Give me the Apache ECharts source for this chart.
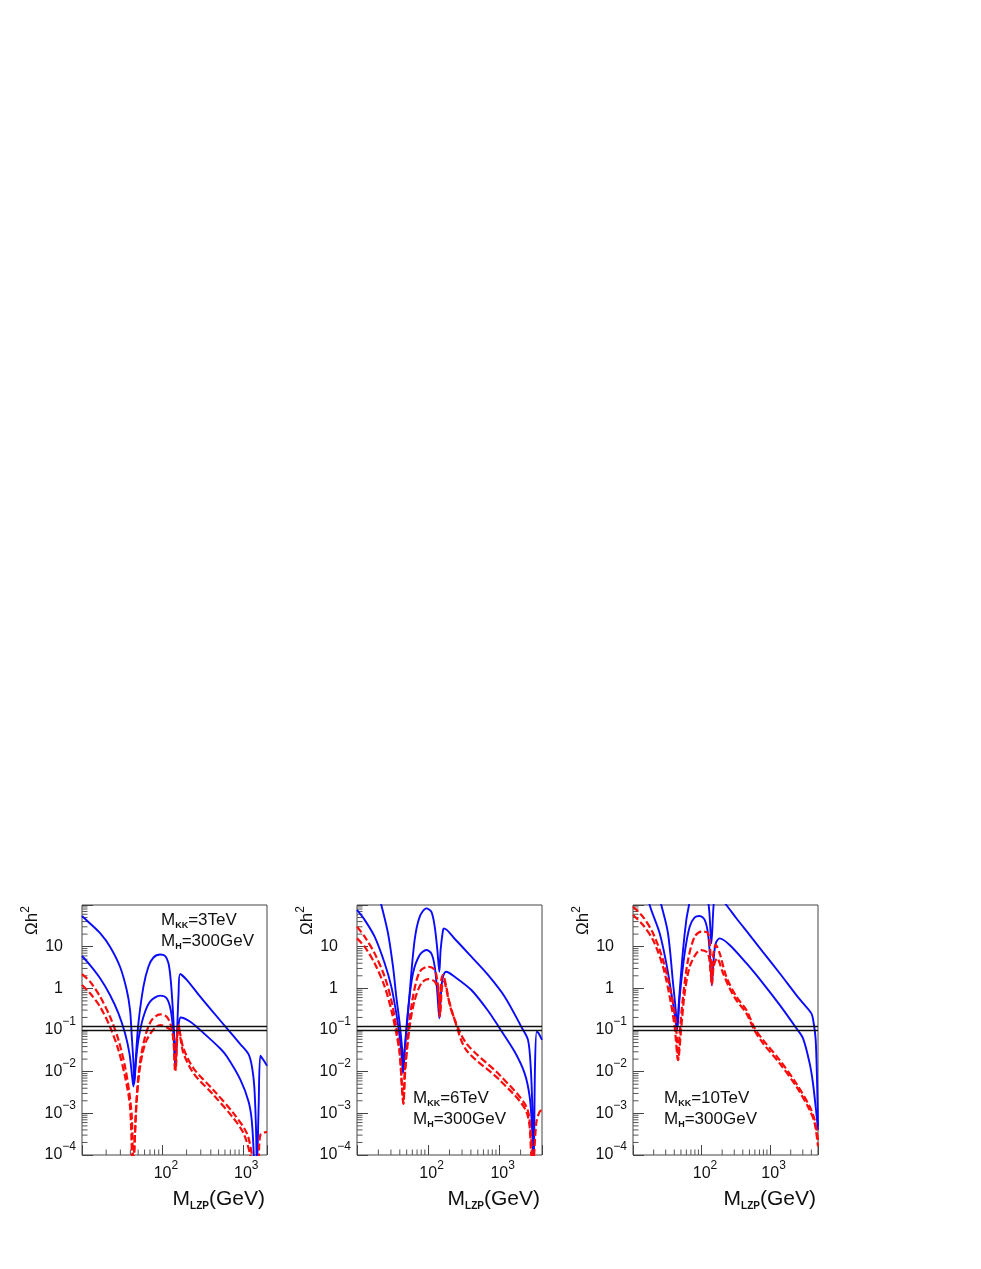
<!DOCTYPE html>
<html>
<head>
<meta charset="utf-8">
<script src="https://cdn.jsdelivr.net/npm/echarts@6.0.0/dist/echarts.min.js"></script>
<style>
  html, body { margin: 0; padding: 0; background: #fff; }
  #chart { width: 981px; height: 1269px; }
</style>
</head>
<body>
<div id="chart"></div>
<script>
// axis ranges
const xMin = 10;
const xMaxes = [2000, 4000, 5000];
const yMin = 1e-4;
const yMax = 100;
// WMAP band
const bandY = [0.1, 0.115];
const mkkLabels = ['3TeV', '6TeV', '10TeV'];
const mhLabel = '300GeV';

// [M_LZP (GeV), Omega h^2]  -- M_KK = 3 TeV
const p1Blue1 = [[10,54.5],[12.6,36],[16.8,21],[22.3,10],[29.7,3.3],[36,0.91],[39.6,0.30],[41.6,0.07],[43.6,0.017],[44.9,0.0052],[47.1,0.0275],[50.3,0.145],[58.1,1.1],[67,3.3],[77.4,5.5],[93.7,6.5],[108,6.0],[119,4.0],[127,1.58],[135,0.30],[141,0.058],[146,0.0145],[151,0.058],[159,0.76],[166,2.2],[201,1.6],[295,0.63],[433,0.26],[634,0.11],[929,0.046],[1181,0.026],[1300,0.0132],[1390,0.0044],[1458,0.00048],[1500,0.00005],[1574,0.00145],[1652,0.0242],[1782,0.0198],[2000,0.0139]];
const p1Blue2 = [[10,5.97],[12.6,3.6],[16.8,1.74],[22.3,0.69],[28.4,0.25],[34.3,0.083],[38.9,0.0275],[41.6,0.0091],[43.6,0.0044],[46.2,0.0132],[50.3,0.058],[58.1,0.209],[70.3,0.48],[93.7,0.67],[113,0.58],[127,0.30],[137,0.083],[144,0.0145],[151,0.058],[160,0.145],[169,0.20],[222,0.158],[295,0.1],[524,0.036],[634,0.023],[929,0.0065],[1181,0.0019],[1300,0.0006],[1390,0.00005]];
const p1Red1 = [[10,2.2],[12.6,1.45],[16.8,0.63],[22.3,0.209],[28.4,0.058],[34.3,0.0132],[38.9,0.003],[41.6,0.00083],[43.6,0.00005],[47.1,0.00145],[51.8,0.0132],[60.9,0.069],[73.8,0.174],[93.7,0.238],[113,0.209],[127,0.132],[137,0.058],[144,0.01],[151,0.058],[159,0.132],[166,0.083],[183,0.036],[244,0.012],[433,0.0036],[768,0.001],[1125,0.00033],[1300,0.0001],[1390,0.00004],[1540,0.00004],[1652,0.0003],[2000,0.00036]];
const p1Red2 = [[10,1.2],[12.6,0.76],[16.8,0.36],[22.3,0.12],[28.4,0.033],[34.3,0.0076],[39.6,0.00145],[42.8,0.00005],[48,0.0021],[52.8,0.0132],[63.9,0.058],[93.7,0.132],[119,0.11],[135,0.083],[146,0.011],[154,0.083],[160,0.12],[169,0.058],[183,0.0275],[244,0.0091],[433,0.00275],[768,0.00076],[1023,0.00033],[1239,0.0001],[1340,0.00004]];

// M_KK = 6 TeV
const p2Blue1 = [[19.7,200],[22,100],[27.3,21],[32.1,3.3],[35.7,0.63],[39.8,0.145],[42.9,0.04],[45.3,0.011],[46.8,0.033],[49.4,0.083],[55,0.76],[64.7,14.5],[76.1,52],[94.4,83],[111,69],[124,30],[135,8.3],[144,2.5],[150,8.3],[162,25],[167,27.5],[236,15.5],[406,5.75],[696,2.1],[1195,0.63],[2046,0.12],[2541,0.058],[2773,0.0132],[2925,0.00145],[3054,0.00005],[3189,0.0132],[3366,0.091],[3592,0.083],[4000,0.058]];
const p2Blue2 = [[10,76],[12.8,44],[17.7,17.4],[24.5,4.0],[30.4,1.1],[35.7,0.25],[39.8,0.069],[42.9,0.019],[44.4,0.0091],[46.8,0.033],[52.2,0.30],[61.3,2.3],[76.1,6.3],[94.4,8.3],[111,6.9],[124,3.3],[135,0.76],[144,0.19],[153,0.91],[162,1.9],[180,2.5],[236,1.9],[406,0.91],[696,0.29],[1015,0.11],[1652,0.030],[2280,0.0091],[2684,0.0025],[2893,0.00048],[3054,0.00005]];
const p2Red1 = [[10,30],[12.8,17.4],[17.7,6.9],[24.5,1.9],[30.4,0.52],[35.7,0.12],[39.8,0.033],[42.9,0.0044],[44.9,0.0017],[46.8,0.0091],[52.2,0.083],[61.3,0.63],[76.1,2.5],[99.7,3.3],[124,2.75],[138,1.1],[146,0.21],[153,1.58],[162,2.1],[180,1.1],[212,0.30],[345,0.048],[1015,0.0083],[2408,0.00145],[2773,0.00033],[2988,0.00005],[3327,0.0006],[3707,0.0011],[4000,0.0012]];
const p2Red2 = [[10,15.8],[12.8,10],[17.7,4.0],[24.5,1.1],[30.4,0.30],[35.7,0.083],[39.8,0.0275],[42.9,0.0044],[44.9,0.0017],[47.8,0.011],[55,0.12],[64.7,0.52],[80.3,1.32],[99.7,1.67],[124,1.45],[141,0.76],[147,0.23],[157,1.1],[167,1.45],[190,0.63],[236,0.174],[345,0.033],[1015,0.0063],[2408,0.0011],[2834,0.0001],[2960,0.00005]];

// M_KK = 10 TeV
const p3Blue1 = [[23.2,200],[25.9,100],[32.4,21],[38.4,1.32],[42.0,0.30],[43.9,0.11],[46.9,0.52],[53.7,8.3],[60,44],[65.6,100],[71,250],[99.4,600],[127,100],[139,12],[150,100],[161,200],[230,100],[322,48],[504,19],[788,7.4],[1380,2.3],[2416,0.69],[3024,0.44],[4000,0.25],[4327,0.145],[4627,0.058],[4839,0.0063],[5000,0.00048]];
const p3Blue2 = [[16.6,200],[17.5,100],[24.5,21],[30.6,4.0],[36.3,0.76],[40.5,0.25],[43.9,0.1],[48,0.63],[56.7,6.9],[67.1,30],[79.4,50.5],[94,54.5],[111,44],[124,21],[134,4.8],[141,1.2],[150,4.8],[161,12],[184,15.8],[257,11],[451,4.0],[788,1.32],[1380,0.4],[2416,0.11],[3024,0.063],[3781,0.0158],[4229,0.0052],[4732,0.001],[5000,0.0004]];
const p3Red1 = [[10,91],[14,52],[19.6,21],[27.4,4.8],[34.3,1.1],[40.5,0.25],[43.9,0.058],[45.4,0.019],[48,0.083],[53.7,0.63],[63.5,4.8],[79.4,17.4],[99.4,23],[124,21],[134,8.3],[141,1.32],[147,5.75],[161,11],[184,6.9],[230,1.9],[322,0.63],[451,0.30],[596,0.11],[788,0.058],[1380,0.019],[2416,0.0052],[3781,0.00145],[4474,0.00069],[5000,0.00023]];
const p3Red2 = [[10,57.5],[14,33],[19.6,14.5],[27.4,3.3],[34.3,0.63],[40.5,0.12],[45.4,0.019],[50.7,0.12],[56.7,0.76],[67.1,3.3],[84,6.9],[99.4,8.3],[124,6.9],[136,2.3],[142,1.2],[150,3.3],[168,5.25],[206,2.3],[257,1.0],[322,0.52],[451,0.25],[596,0.096],[788,0.048],[1380,0.0158],[2416,0.0044],[3781,0.0012],[4474,0.00058],[5000,0.00016]];

const panels = [
  { xMax: xMaxes[0], blue: [p1Blue1, p1Blue2], red: [p1Red1, p1Red2], mkk: mkkLabels[0] },
  { xMax: xMaxes[1], blue: [p2Blue1, p2Blue2], red: [p2Red1, p2Red2], mkk: mkkLabels[1] },
  { xMax: xMaxes[2], blue: [p3Blue1, p3Blue2], red: [p3Red1, p3Red2], mkk: mkkLabels[2] }
];

// layout
const FONT = '"Liberation Sans", Arial, Helvetica, sans-serif';
const INK = '#111';
const lefts = [82, 357, 633];
const gridTop = 905, gridW = 185, gridH = 250;
const annPos = [[161, 920], [413, 1098], [664, 1098]];

function expOf(v) {
  const e = Math.log10(v);
  const r = Math.round(e);
  return Math.abs(e - r) < 1e-6 ? r : null;
}

function yLabel(v) {
  const e = expOf(v);
  if (e === null || e >= 2) return '';
  if (e === 1) return '{p|10}';
  if (e === 0) return '{p|1}';
  return '{b|10}{s|\u2212' + (-e) + '}';
}

function xLabel(v) {
  const e = expOf(v);
  if (e === null || e < 2) return '';
  return '{b|10}{s|' + e + '}';
}

const yRich = {
  b: { fontFamily: FONT, fontSize: 16, color: INK, lineHeight: 28 },
  p: { fontFamily: FONT, fontSize: 16, color: INK, lineHeight: 28, padding: [0, 13, 0, 0] },
  s: { fontFamily: FONT, fontSize: 12, color: INK, lineHeight: 12, verticalAlign: 'top' }
};
const xRich = {
  b: { fontFamily: FONT, fontSize: 16, color: INK, lineHeight: 28, padding: [0, 0, 0, 7] },
  s: { fontFamily: FONT, fontSize: 12, color: INK, lineHeight: 12, verticalAlign: 'top' }
};

function tickData(xMax) {
  const out = [];
  for (let e = -4; e < 2; e++) {
    for (let k = 2; k <= 9; k++) out.push([xMin, k * Math.pow(10, e), 0]);
  }
  for (let e = 1; e < 4; e++) {
    for (let k = 2; k <= 9; k++) {
      const v = k * Math.pow(10, e);
      if (v < xMax) out.push([v, yMin, 1]);
    }
  }
  return out;
}

function renderTick(params, api) {
  const p = api.coord([api.value(0), api.value(1)]);
  const len = 5.5;
  const horiz = api.value(2) === 0;
  return {
    type: 'line',
    shape: horiz
      ? { x1: p[0], y1: p[1], x2: p[0] + len, y2: p[1] }
      : { x1: p[0], y1: p[1], x2: p[0], y2: p[1] - len },
    style: { stroke: '#555', lineWidth: 1 }
  };
}

const grid = [], xAxis = [], yAxis = [], series = [], graphic = [];

panels.forEach((pn, i) => {
  grid.push({ left: lefts[i], top: gridTop, width: gridW, height: gridH, show: true,
              borderColor: '#444', borderWidth: 1, backgroundColor: 'transparent' });
  xAxis.push({
    type: 'log', logBase: 10, gridIndex: i, min: xMin, max: pn.xMax,
    axisLine: { show: false }, splitLine: { show: false },
    axisTick: { show: true, inside: true, length: 10, lineStyle: { color: '#444', width: 1 } },
    axisLabel: { formatter: xLabel, margin: 5, rich: xRich }
  });
  yAxis.push({
    type: 'log', logBase: 10, gridIndex: i, min: yMin, max: yMax,
    axisLine: { show: false }, splitLine: { show: false },
    axisTick: { show: true, inside: true, length: 11, lineStyle: { color: '#444', width: 1 } },
    axisLabel: { formatter: yLabel, margin: 6, rich: yRich }
  });

  pn.blue.forEach((d, j) => {
    const s = {
      type: 'line', xAxisIndex: i, yAxisIndex: i, data: d,
      showSymbol: false, symbol: 'none', smooth: 0.3, clip: true,
      lineStyle: { color: '#0a0aff', width: 1.9 }, silent: true
    };
    if (j === 0) {
      s.markLine = {
        silent: true, symbol: ['none', 'none'], label: { show: false },
        lineStyle: { color: '#111', width: 1.3, type: 'solid' },
        data: bandY.map(v => ({ yAxis: v }))
      };
    }
    series.push(s);
  });
  pn.red.forEach(d => {
    series.push({
      type: 'line', xAxisIndex: i, yAxisIndex: i, data: d,
      showSymbol: false, symbol: 'none', smooth: 0.3, clip: true,
      lineStyle: { color: '#ff0a0a', width: 2.2, type: [7, 3] }, silent: true
    });
  });
  series.push({
    type: 'custom', xAxisIndex: i, yAxisIndex: i, data: tickData(pn.xMax),
    renderItem: renderTick, silent: true, clip: false
  });

  // axis titles
  graphic.push({
    type: 'text', x: lefts[i] - 50, y: 935, rotation: Math.PI / 2,
    style: {
      text: '{m|\u03A9h}{s|2}', align: 'left', verticalAlign: 'middle',
      textAlign: 'left', textVerticalAlign: 'middle',
      rich: {
        m: { fontFamily: FONT, fontSize: 17, fill: INK, lineHeight: 24 },
        s: { fontFamily: FONT, fontSize: 12, fill: INK, lineHeight: 12, verticalAlign: 'top' }
      }
    }
  });
  graphic.push({
    type: 'text', x: lefts[i] + gridW - 2, y: 1199,
    style: {
      text: '{m|M}{s|LZP}{m|(GeV)}', align: 'right', verticalAlign: 'middle',
      textAlign: 'right', textVerticalAlign: 'middle',
      rich: {
        m: { fontFamily: FONT, fontSize: 21, fill: INK, lineHeight: 24 },
        s: { fontFamily: FONT, fontSize: 10, fontWeight: 'bold', fill: INK, lineHeight: 14, verticalAlign: 'bottom' }
      }
    }
  });
  // parameter labels
  const annRich = {
    m: { fontFamily: FONT, fontSize: 17, fill: INK, lineHeight: 20 },
    s: { fontFamily: FONT, fontSize: 9, fontWeight: 'bold', fill: INK, lineHeight: 13, verticalAlign: 'bottom' }
  };
  graphic.push({
    type: 'text', x: annPos[i][0], y: annPos[i][1],
    style: { text: '{m|M}{s|KK}{m|=' + pn.mkk + '}', align: 'left', verticalAlign: 'middle',
             textAlign: 'left', textVerticalAlign: 'middle', rich: annRich }
  });
  graphic.push({
    type: 'text', x: annPos[i][0], y: annPos[i][1] + 21,
    style: { text: '{m|M}{s|H}{m|=' + mhLabel + '}', align: 'left', verticalAlign: 'middle',
             textAlign: 'left', textVerticalAlign: 'middle', rich: annRich }
  });
});

const chart = echarts.init(document.getElementById('chart'), null, { renderer: 'canvas' });
chart.setOption({
  animation: false,
  backgroundColor: '#fff',
  grid: grid,
  xAxis: xAxis,
  yAxis: yAxis,
  series: series,
  graphic: graphic
});
</script>
</body>
</html>
